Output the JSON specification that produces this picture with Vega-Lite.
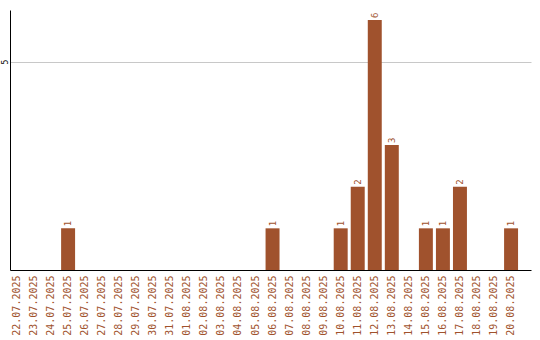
{
  "$schema": "https://vega.github.io/schema/vega-lite/v6.json",
  "autosize": "none",
  "width": 521,
  "height": 260,
  "padding": {"left": 10, "top": 10, "right": 9, "bottom": 70},
  "background": "white",
  "config": {"view": {"stroke": null}},
  "data": {"values": [
    {"date": "22.07.2025", "count": 0},
    {"date": "23.07.2025", "count": 0},
    {"date": "24.07.2025", "count": 0},
    {"date": "25.07.2025", "count": 1},
    {"date": "26.07.2025", "count": 0},
    {"date": "27.07.2025", "count": 0},
    {"date": "28.07.2025", "count": 0},
    {"date": "29.07.2025", "count": 0},
    {"date": "30.07.2025", "count": 0},
    {"date": "31.07.2025", "count": 0},
    {"date": "01.08.2025", "count": 0},
    {"date": "02.08.2025", "count": 0},
    {"date": "03.08.2025", "count": 0},
    {"date": "04.08.2025", "count": 0},
    {"date": "05.08.2025", "count": 0},
    {"date": "06.08.2025", "count": 1},
    {"date": "07.08.2025", "count": 0},
    {"date": "08.08.2025", "count": 0},
    {"date": "09.08.2025", "count": 0},
    {"date": "10.08.2025", "count": 1},
    {"date": "11.08.2025", "count": 2},
    {"date": "12.08.2025", "count": 6},
    {"date": "13.08.2025", "count": 3},
    {"date": "14.08.2025", "count": 0},
    {"date": "15.08.2025", "count": 1},
    {"date": "16.08.2025", "count": 1},
    {"date": "17.08.2025", "count": 2},
    {"date": "18.08.2025", "count": 0},
    {"date": "19.08.2025", "count": 0},
    {"date": "20.08.2025", "count": 1}
  ]},
  "encoding": {
    "x": {
      "field": "date", "type": "nominal", "sort": null,
      "scale": {"paddingInner": 0.18, "paddingOuter": 0.38, "align": 0},
      "axis": {
        "title": null, "labelAngle": -90, "ticks": false, "labelPadding": 5,
        "labelColor": "#a0522d", "labelFont": "DejaVu Sans Mono", "labelFontSize": 10,
        "domainColor": "#000000", "domainWidth": 1, "grid": false
      }
    },
    "y": {
      "field": "count", "type": "quantitative",
      "scale": {"domain": [0, 6.24], "nice": false},
      "axis": {
        "title": null, "values": [5], "ticks": false, "labelAngle": -90,
        "labelFont": "DejaVu Sans Mono", "labelFontSize": 8, "labelColor": "#000000",
        "labelPadding": 1, "labelAlign": "center", "labelBaseline": "bottom",
        "domainColor": "#000000", "domainWidth": 1,
        "grid": true, "gridColor": "#c8c8c8", "gridWidth": 1
      }
    }
  },
  "layer": [
    {"mark": {"type": "bar", "color": "#a0522d"}},
    {
      "transform": [{"filter": "datum.count > 0"}],
      "mark": {"type": "text", "angle": 270, "align": "left", "baseline": "middle", "dx": 2,
               "font": "DejaVu Sans Mono", "fontSize": 9, "color": "#a0522d"},
      "encoding": {"text": {"field": "count", "type": "quantitative"}}
    }
  ]
}
